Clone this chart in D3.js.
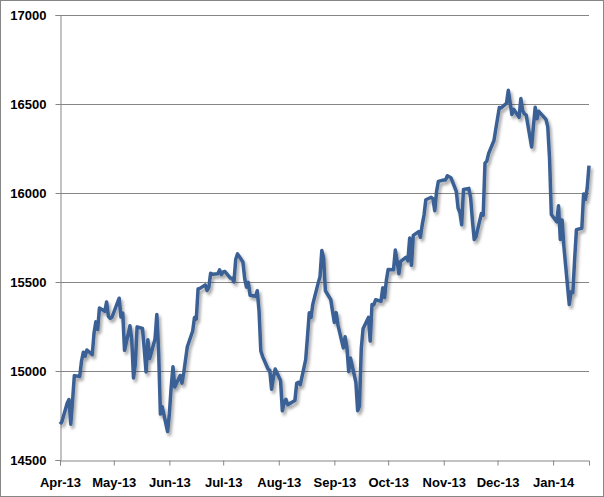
<!DOCTYPE html>
<html><head><meta charset="utf-8">
<script src="https://cdn.jsdelivr.net/npm/d3@7"></script>
<style>body{margin:0;background:#fff}svg{display:block}text{font-family:"Liberation Sans",Arial,sans-serif;font-weight:bold;font-size:13px;fill:#000}</style>
</head><body><svg id="c" width="604" height="497"></svg>
<script>
const dates = ["2013-04-01","2013-04-02","2013-04-05","2013-04-06","2013-04-07","2013-04-08","2013-04-09","2013-04-12","2013-04-13","2013-04-14","2013-04-15","2013-04-16","2013-04-19","2013-04-20","2013-04-21","2013-04-22","2013-04-23","2013-04-26","2013-04-27","2013-04-28","2013-04-29","2013-04-30","2013-05-04","2013-05-05","2013-05-06","2013-05-07","2013-05-10","2013-05-11","2013-05-12","2013-05-13","2013-05-14","2013-05-17","2013-05-18","2013-05-19","2013-05-20","2013-05-21","2013-05-24","2013-05-25","2013-05-26","2013-05-27","2013-05-28","2013-05-31","2013-06-01","2013-06-02","2013-06-03","2013-06-04","2013-06-07","2013-06-08","2013-06-09","2013-06-11","2013-06-14","2013-06-15","2013-06-16","2013-06-17","2013-06-18","2013-06-21","2013-06-22","2013-06-23","2013-06-24","2013-06-25","2013-06-28","2013-06-29","2013-06-30","2013-07-01","2013-07-02","2013-07-05","2013-07-06","2013-07-07","2013-07-08","2013-07-09","2013-07-12","2013-07-13","2013-07-14","2013-07-15","2013-07-16","2013-07-19","2013-07-20","2013-07-21","2013-07-22","2013-07-23","2013-07-26","2013-07-27","2013-07-28","2013-07-29","2013-07-30","2013-08-02","2013-08-03","2013-08-04","2013-08-05","2013-08-06","2013-08-10","2013-08-11","2013-08-12","2013-08-13","2013-08-16","2013-08-17","2013-08-18","2013-08-19","2013-08-20","2013-08-23","2013-08-24","2013-08-25","2013-08-26","2013-08-27","2013-08-30","2013-08-31","2013-09-01","2013-09-02","2013-09-03","2013-09-06","2013-09-07","2013-09-08","2013-09-09","2013-09-10","2013-09-13","2013-09-14","2013-09-15","2013-09-16","2013-09-17","2013-09-20","2013-09-21","2013-09-22","2013-09-23","2013-09-24","2013-09-27","2013-09-28","2013-09-29","2013-09-30","2013-10-01","2013-10-04","2013-10-05","2013-10-06","2013-10-07","2013-10-08","2013-10-11","2013-10-12","2013-10-13","2013-10-14","2013-10-15","2013-10-18","2013-10-19","2013-10-20","2013-10-21","2013-10-22","2013-10-25","2013-10-26","2013-10-27","2013-10-28","2013-10-29","2013-11-01","2013-11-02","2013-11-03","2013-11-05","2013-11-08","2013-11-09","2013-11-10","2013-11-11","2013-11-12","2013-11-15","2013-11-16","2013-11-17","2013-11-18","2013-11-19","2013-11-22","2013-11-23","2013-11-24","2013-11-25","2013-11-26","2013-11-29","2013-11-30","2013-12-02","2013-12-03","2013-12-06","2013-12-07","2013-12-09","2013-12-10","2013-12-13","2013-12-14","2013-12-15","2013-12-16","2013-12-17","2013-12-20","2013-12-21","2013-12-22","2013-12-23","2013-12-24","2013-12-28","2013-12-29","2013-12-30","2013-12-31","2014-01-03","2014-01-04","2014-01-05","2014-01-06","2014-01-07","2014-01-10","2014-01-11","2014-01-12","2014-01-13","2014-01-14","2014-01-17","2014-01-18","2014-01-19","2014-01-20","2014-01-21"];
const values = [14701,14713,14819,14840,14701,14832,14974,14969,15056,15105,15083,15118,15092,15215,15276,15233,15354,15335,15388,15307,15295,15303,15409,15303,15325,15116,15254,15178,14961,15041,15248,15239,15122,14995,15176,15070,15180,15318,15112,14758,14799,14660,14760,14910,15024,14910,14975,14932,14989,15136,15225,15300,15292,15461,15464,15484,15452,15471,15549,15544,15546,15568,15542,15556,15559,15522,15521,15500,15628,15658,15612,15519,15471,15498,15426,15420,15451,15338,15112,15081,15011,15003,14898,14964,15011,14946,14776,14825,14841,14810,14834,14931,14937,14923,15063,15191,15327,15301,15376,15495,15530,15677,15637,15451,15401,15335,15273,15328,15258,15130,15192,15133,14996,15073,14936,14777,14803,15126,15237,15301,15168,15374,15372,15400,15392,15468,15413,15509,15570,15569,15680,15618,15546,15616,15639,15619,15747,15594,15762,15783,15751,15822,15876,15962,15976,15967,15901,16010,16065,16073,16073,16097,16086,16009,15915,15890,15822,16020,16026,15973,15844,15739,15755,15885,15875,16168,16179,16221,16295,16358,16480,16478,16504,16577,16441,16470,16425,16531,16463,16445,16437,16258,16374,16482,16417,16459,16414,16373,16197,15879,15838,15929,15739,15849,15699,15373,15445,15440,15629,15794,15802,15995,15964,16028,16154];
const monthTicks = ["2013-04-01","2013-05-01","2013-06-01","2013-07-01","2013-08-01","2013-09-01","2013-10-01","2013-11-01","2013-12-01","2014-01-01"];
const yTicks = [14500,15000,15500,16000,16500,17000];
const xDomain = ["2013-04-01","2014-01-21"];

const parse = d3.utcParse("%Y-%m-%d");
const data = dates.map((d,i)=>({date:parse(d), value:values[i]}));
const svg = d3.select("#c");
const L=60, R=589, T=15, B=460;
const x = d3.scaleUtc().domain(xDomain.map(parse)).range([L,R]);
const y = d3.scaleLinear().domain([14500,17000]).range([B,T]);

const defs = svg.append("defs");
const f = defs.append("filter").attr("id","sh").attr("x","-5%").attr("y","-5%").attr("width","110%").attr("height","115%");
f.append("feDropShadow").attr("dx",2).attr("dy",3).attr("stdDeviation",1.6).attr("flood-color","#000").attr("flood-opacity",0.35);

svg.append("rect").attr("x",0.5).attr("y",0.5).attr("width",603).attr("height",496).attr("fill","#fff").attr("stroke","#868686");

// gridlines
svg.append("g").selectAll("line").data(yTicks.filter(v=>v>14500)).join("line")
  .attr("x1",L).attr("x2",R).attr("y1",d=>Math.round(y(d))+0.5).attr("y2",d=>Math.round(y(d))+0.5)
  .attr("stroke","#868686").attr("stroke-width",1);

const yAxis = svg.append("g").attr("transform",`translate(${L+0.5},0)`)
  .call(d3.axisLeft(y).tickValues(yTicks).tickSize(5).tickPadding(9).tickFormat(d3.format("d")));
const xAxis = svg.append("g").attr("transform",`translate(0,${B+0.5})`)
  .call(d3.axisBottom(x).tickValues(monthTicks.map(parse)).tickSize(5).tickPadding(12).tickFormat(d3.utcFormat("%b-%y")));
[yAxis,xAxis].forEach(a=>{
  a.select(".domain").attr("stroke","#868686");
  a.selectAll(".tick line").attr("stroke","#868686");
  a.selectAll("text").attr("font-size",13).attr("font-weight","bold").attr("font-family","'Liberation Sans',Arial,sans-serif").attr("fill","#000");
});

svg.append("path").datum(data)
  .attr("d", d3.line().x(d=>x(d.date)).y(d=>y(d.value)))
  .attr("fill","none").attr("stroke","#3A6095").attr("stroke-width",3.5)
  .attr("stroke-linejoin","round").attr("filter","url(#sh)");
</script></body></html>
